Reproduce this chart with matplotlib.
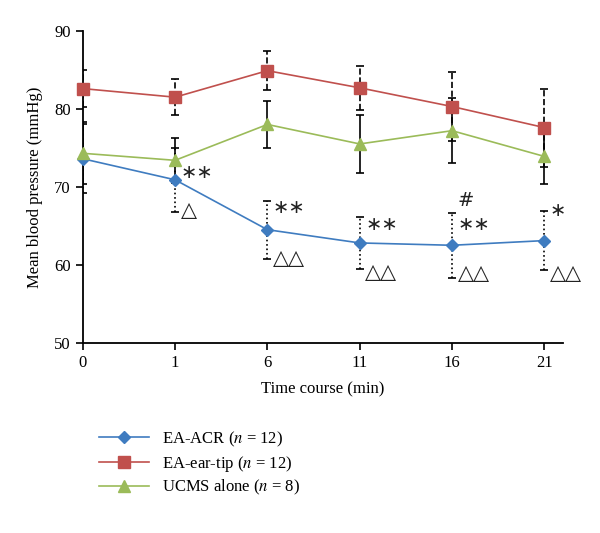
import numpy as np
import matplotlib.pyplot as plt

plt.rcParams['font.family'] = ['Liberation Serif', 'DejaVu Sans']
plt.rcParams['mathtext.fontset'] = 'stix'

# time points (categorical, evenly spaced on the axis)
time_labels = ['0', '1', '6', '11', '16', '21']

acr_mean = [73.6, 70.9, 64.5, 62.8, 62.5, 63.1]
acr_sd = [4.4, 4.1, 3.7, 3.3, 4.2, 3.8]

ear_mean = [82.6, 81.5, 84.9, 82.7, 80.3, 77.6]
ear_sd = [2.4, 2.3, 2.5, 2.8, 4.4, 5.0]

ucms_mean = [74.3, 73.4, 78.0, 75.5, 77.2, 73.9]
ucms_sd = [4.0, 2.9, 3.0, 3.7, 4.2, 3.5]

# significance marks: (time index, y value, text)
marks = [
    (1, 71.8, '∗∗'), (1, 67.0, '△'),
    (2, 67.4, '∗∗'), (2, 60.9, '△△'),
    (3, 65.2, '∗∗'), (3, 59.1, '△△'),
    (4, 68.2, '#'), (4, 65.2, '∗∗'), (4, 59.0, '△△'),
    (5, 66.9, '∗'), (5, 59.0, '△△'),
]

x = np.arange(len(time_labels))

fig = plt.figure(figsize=(6, 5.33), dpi=100)
ax = fig.add_axes([0.138, 0.357, 0.80, 0.585])

series = [
    ('EA-ACR', acr_mean, acr_sd, '#3F7CC0', 'D', 6, ':'),
    ('EA-ear-tip', ear_mean, ear_sd, '#C0504D', 's', 9, '--'),
    ('UCMS alone', ucms_mean, ucms_sd, '#9BBB59', '^', 9, '-'),
]
n_vals = {'EA-ACR': 12, 'EA-ear-tip': 12, 'UCMS alone': 8}

for name, mean, sd, color, marker, ms, es in series:
    eb = ax.errorbar(x, mean, yerr=sd, fmt='none', ecolor='black', elinewidth=1.2,
                     capsize=3, capthick=1.2, zorder=2)
    eb[2][0].set_linestyle(es)
    ax.plot(x, mean, color=color, marker=marker, markersize=ms, linewidth=1.2,
            label=f'{name} ($n$ = {n_vals[name]})', zorder=3, clip_on=False)

for i, y, t in marks:
    fs = 15 if '△' in t else 14
    ax.text(i + 0.06, y, t, fontsize=fs, ha='left', va='center',
            family=['DejaVu Sans'], color='#222222')

ax.set_xlim(0, 5.2)
ax.set_ylim(50, 90)
ax.set_xticks(x)
ax.set_xticklabels(time_labels)
ax.set_yticks([50, 60, 70, 80, 90])
ax.tick_params(direction='out', labelsize=12, length=5, width=1.2)
for s in ['top', 'right']:
    ax.spines[s].set_visible(False)
for s in ['left', 'bottom']:
    ax.spines[s].set_linewidth(1.3)

ax.set_xlabel('Time course (min)', fontsize=12, labelpad=8)
ax.set_ylabel('Mean blood pressure (mmHg)', fontsize=12, labelpad=8)

fig.legend(loc='upper left', bbox_to_anchor=(0.14, 0.222), frameon=False,
           fontsize=12, handlelength=3, labelspacing=0.28, handletextpad=0.8)

fig.savefig('out.png', dpi=100)
